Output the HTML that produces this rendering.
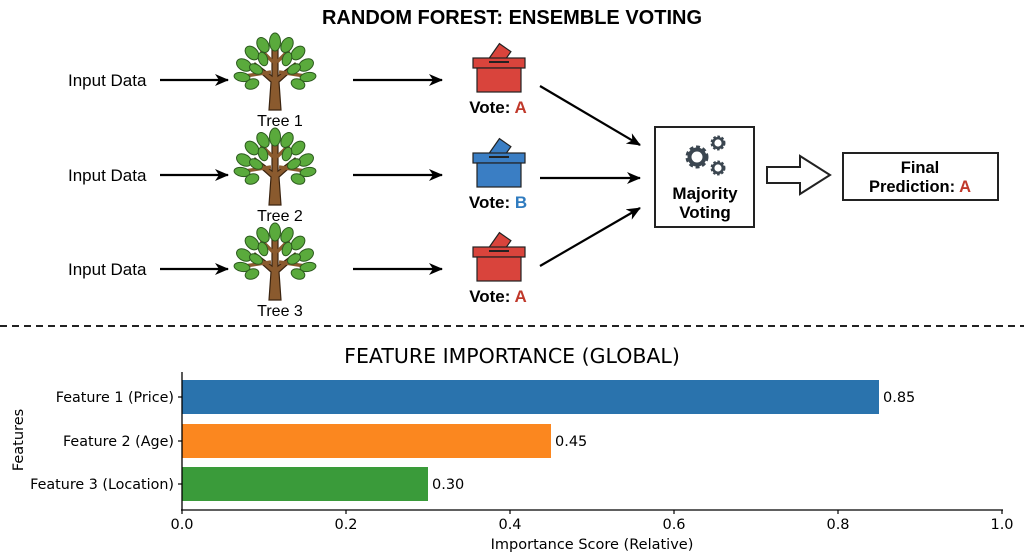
<!DOCTYPE html>
<html><head><meta charset="utf-8"><style>
html,body{margin:0;padding:0;background:#fff;}
svg{display:block;}
.a{font-family:"Liberation Sans",Arial,sans-serif;}
.d{font-family:"DejaVu Sans",sans-serif;}
</style></head><body>
<svg width="1024" height="559" viewBox="0 0 1024 559" xmlns="http://www.w3.org/2000/svg">
<defs>
<marker id="ah" markerWidth="14" markerHeight="12" refX="13" refY="6" orient="auto" markerUnits="userSpaceOnUse">
<path d="M0,0 L14,6 L0,12 L4,6 Z" fill="#000"/></marker>
<g id="tree">
<path d="M-6,38 L-4,10 L-22,-6 L-20,-9 L-3,4 L-3,-22 L3,-22 L3,4 L20,-9 L22,-6 L4,10 L6,38 Z" fill="#8a5a2e" stroke="#3b2410" stroke-width="1.2"/>
<path d="M-4,0 L-30,4 M4,0 L30,4 M-2,-10 L-14,-22 M2,-10 L14,-22" stroke="#8a5a2e" stroke-width="3.5"/>
<g fill="#5aaa3c" stroke="#2c5a1e" stroke-width="1">
<ellipse cx="0" cy="-30" rx="5.5" ry="9"/>
<ellipse cx="-12" cy="-27" rx="5.5" ry="8" transform="rotate(-30 -12 -27)"/>
<ellipse cx="12" cy="-27" rx="5.5" ry="8" transform="rotate(30 12 -27)"/>
<ellipse cx="-23" cy="-19" rx="5.5" ry="8" transform="rotate(-45 -23 -19)"/>
<ellipse cx="23" cy="-19" rx="5.5" ry="8" transform="rotate(45 23 -19)"/>
<ellipse cx="-31" cy="-7" rx="5.5" ry="8" transform="rotate(-60 -31 -7)"/>
<ellipse cx="31" cy="-7" rx="5.5" ry="8" transform="rotate(60 31 -7)"/>
<ellipse cx="-33" cy="5" rx="4.5" ry="8" transform="rotate(-80 -33 5)"/>
<ellipse cx="33" cy="5" rx="4.5" ry="8" transform="rotate(80 33 5)"/>
<ellipse cx="-23" cy="12" rx="5" ry="7" transform="rotate(-110 -23 12)"/>
<ellipse cx="23" cy="12" rx="5" ry="7" transform="rotate(110 23 12)"/>
<ellipse cx="-12" cy="-13" rx="4.5" ry="7" transform="rotate(-20 -12 -13)"/>
<ellipse cx="12" cy="-13" rx="4.5" ry="7" transform="rotate(20 12 -13)"/>
<ellipse cx="-19" cy="-3" rx="4.5" ry="7" transform="rotate(-60 -19 -3)"/>
<ellipse cx="19" cy="-3" rx="4.5" ry="7" transform="rotate(60 19 -3)"/>
</g></g>
<g id="box">
<rect x="-6" y="-24" width="14" height="18" fill="currentColor" stroke="#222" stroke-width="1.2" transform="rotate(35 1 -15)"/>
<rect x="-26" y="-12" width="52" height="10" fill="currentColor" stroke="#222" stroke-width="1.2"/>
<rect x="-22" y="-2" width="44" height="24" fill="currentColor" stroke="#222" stroke-width="1.2"/>
<line x1="-10" y1="-8" x2="10" y2="-8" stroke="#222" stroke-width="2"/>
</g>
<g id="gear"><circle r="9" fill="none" stroke="#3b4650" stroke-width="5" stroke-dasharray="3.5 2.4"/><circle r="7.5" fill="none" stroke="#3b4650" stroke-width="4"/></g>
</defs>

<text x="512" y="24" text-anchor="middle" class="a" font-size="20" font-weight="bold">RANDOM FOREST: ENSEMBLE VOTING</text>

<g class="a" font-size="17">
<text x="68" y="86">Input Data</text>
<text x="68" y="181">Input Data</text>
<text x="68" y="275">Input Data</text>
</g>
<g stroke="#000" stroke-width="2.2" marker-end="url(#ah)">
<line x1="160" y1="80" x2="228" y2="80"/>
<line x1="160" y1="175" x2="228" y2="175"/>
<line x1="160" y1="269" x2="228" y2="269"/>
<line x1="353" y1="80" x2="442" y2="80"/>
<line x1="353" y1="175" x2="442" y2="175"/>
<line x1="353" y1="269" x2="442" y2="269"/>
<line x1="540" y1="86" x2="640" y2="145"/>
<line x1="540" y1="178" x2="640" y2="178"/>
<line x1="540" y1="266" x2="640" y2="208"/>
</g>
<use href="#tree" x="275" y="72"/>
<use href="#tree" x="275" y="167"/>
<use href="#tree" x="275" y="262"/>
<g class="a" font-size="16" text-anchor="middle">
<text x="280" y="126">Tree 1</text>
<text x="280" y="221">Tree 2</text>
<text x="280" y="316">Tree 3</text>
</g>
<use href="#box" x="499" y="70" color="#d9443c"/>
<use href="#box" x="499" y="165" color="#3a7ec4"/>
<use href="#box" x="499" y="259" color="#d9443c"/>
<g class="a" font-size="17" font-weight="bold" text-anchor="middle">
<text x="498" y="113">Vote: <tspan fill="#c0392b">A</tspan></text>
<text x="498" y="208">Vote: <tspan fill="#2f7bbf">B</tspan></text>
<text x="498" y="302">Vote: <tspan fill="#c0392b">A</tspan></text>
</g>

<rect x="655" y="127" width="99" height="100" fill="#fff" stroke="#222" stroke-width="2"/>
<use href="#gear" x="697" y="157"/>
<g transform="translate(718 143) scale(0.65)"><use href="#gear"/></g>
<g transform="translate(718 168) scale(0.65)"><use href="#gear"/></g>
<text x="705" y="199" text-anchor="middle" class="a" font-size="17" font-weight="bold">Majority</text>
<text x="705" y="218" text-anchor="middle" class="a" font-size="17" font-weight="bold">Voting</text>

<path d="M767,167 L800,167 L800,156 L830,175 L800,194 L800,183 L767,183 Z" fill="#fff" stroke="#222" stroke-width="2"/>
<rect x="843" y="153" width="155" height="47" fill="#fff" stroke="#222" stroke-width="2"/>
<text x="920" y="173" text-anchor="middle" class="a" font-size="16.5" font-weight="bold">Final</text>
<text x="920" y="192" text-anchor="middle" class="a" font-size="16.5" font-weight="bold">Prediction: <tspan fill="#c0392b">A</tspan></text>

<line x1="0" y1="326" x2="1024" y2="326" stroke="#222" stroke-width="2" stroke-dasharray="7 5"/>

<text x="512" y="363" text-anchor="middle" class="d" font-size="20.5">FEATURE IMPORTANCE (GLOBAL)</text>
<rect x="182" y="380" width="697" height="34" fill="#2a73ad"/>
<rect x="182" y="424" width="369" height="34" fill="#fb871f"/>
<rect x="182" y="467" width="246" height="34" fill="#3a9b3a"/>
<g class="d" font-size="14.5">
<text x="883" y="402">0.85</text>
<text x="555" y="446">0.45</text>
<text x="432" y="489">0.30</text>
</g>
<line x1="182" y1="372" x2="182" y2="510" stroke="#000" stroke-width="1.3"/>
<line x1="181" y1="510" x2="1003" y2="510" stroke="#000" stroke-width="1.3"/>
<g stroke="#000" stroke-width="1.2">
<line x1="178" y1="397" x2="182" y2="397"/><line x1="178" y1="441" x2="182" y2="441"/><line x1="178" y1="484" x2="182" y2="484"/>
<line x1="182" y1="510" x2="182" y2="514"/><line x1="346" y1="510" x2="346" y2="514"/><line x1="510" y1="510" x2="510" y2="514"/><line x1="674" y1="510" x2="674" y2="514"/><line x1="838" y1="510" x2="838" y2="514"/><line x1="1002" y1="510" x2="1002" y2="514"/>
</g>
<g class="d" font-size="14.3" text-anchor="end">
<text x="174" y="402">Feature 1 (Price)</text>
<text x="174" y="446">Feature 2 (Age)</text>
<text x="174" y="489">Feature 3 (Location)</text>
</g>
<g class="d" font-size="14.5" text-anchor="middle">
<text x="182" y="529">0.0</text><text x="346" y="529">0.2</text><text x="510" y="529">0.4</text><text x="674" y="529">0.6</text><text x="838" y="529">0.8</text><text x="1002" y="529">1.0</text>
<text x="592" y="549">Importance Score (Relative)</text>
<text transform="translate(23 440) rotate(-90)">Features</text>
</g>
</svg>
</body></html>
